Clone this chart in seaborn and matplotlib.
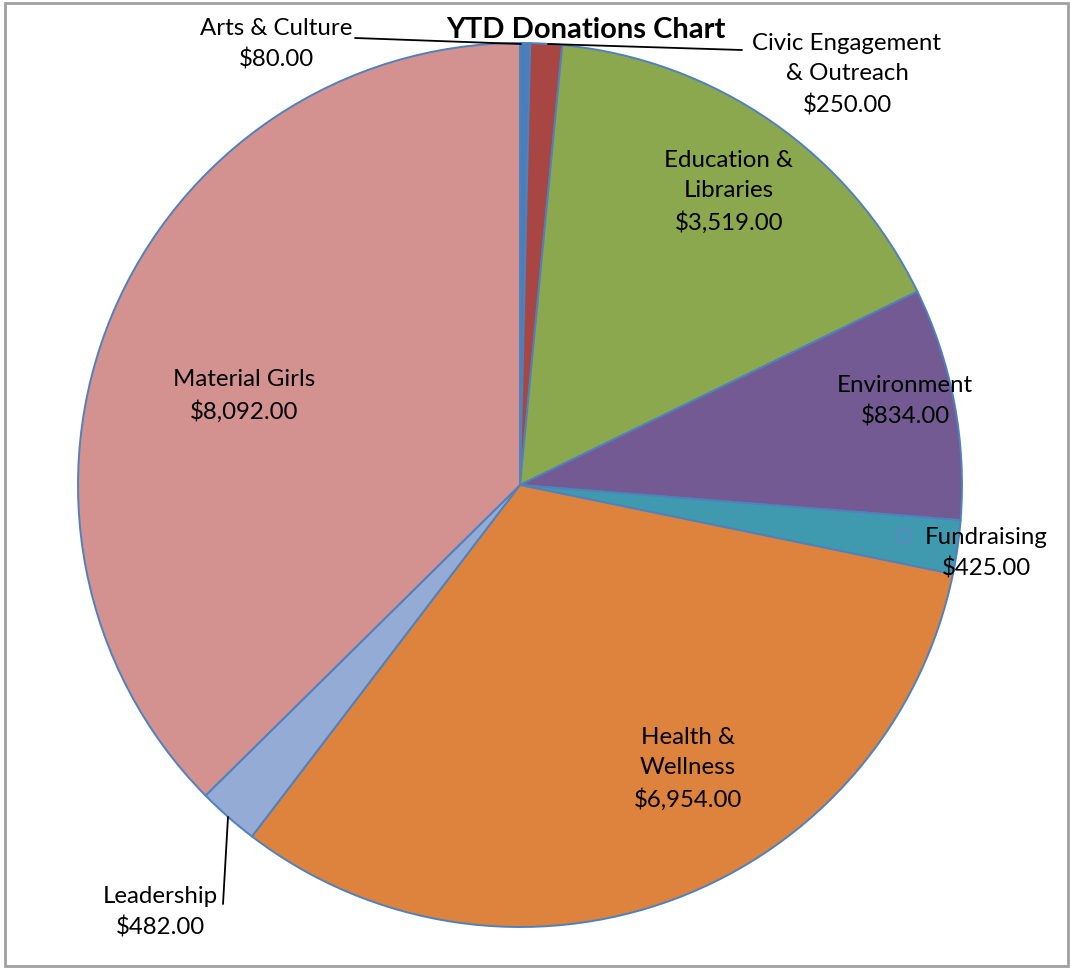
import matplotlib
matplotlib.use("Agg")
import matplotlib.pyplot as plt
import seaborn as sns
from matplotlib.patches import Rectangle

categories = ["Arts & Culture", "Civic Engagement\n& Outreach", "Education &\nLibraries",
              "Environment", "Fundraising", "Health &\nWellness", "Leadership", "Material Girls"]
# slice sizes as drawn in the chart
values = [80.00, 250.00, 3519.00, 1834.00, 425.00, 6954.00, 482.00, 8092.00]
# amounts printed on the labels
label_amounts = [80.00, 250.00, 3519.00, 834.00, 425.00, 6954.00, 482.00, 8092.00]
colors = ["#4A7EBB", "#A84644", "#8BA84E", "#735A92", "#3F9AB0", "#DD833D", "#94ABD6", "#D39190"]
title = "YTD Donations Chart"

sns.set_style("white")
plt.rcParams['font.family'] = ['Lato', 'DejaVu Sans']

W, H = 1070, 968
fig = plt.figure(figsize=(W / 100, H / 100), dpi=100)
ax = fig.add_axes([0, 0, 1, 1])

def Y(y):
    return H - y

cx, cy, R = 520, 485, 442
wedges, _ = ax.pie(values, colors=colors, startangle=90, counterclock=False,
                   center=(cx, Y(cy)), radius=R,
                   wedgeprops=dict(edgecolor="#4F81BD", linewidth=1.4))
ax.set_xlim(0, W)
ax.set_ylim(0, H)
ax.set_aspect('equal', adjustable='datalim')
ax.axis('off')

fs = 17.3
def fmt(v):
    return "${:,.2f}".format(v)

label_pos = [(276, 44), (847, 74.5), (729, 192), (905, 401), (986, 553), (688, 769), (160, 912), (244, 396)]
for cat, v, (x, y) in zip(categories, label_amounts, label_pos):
    txt = cat + "\n" + fmt(v)
    ax.text(x, Y(y), txt, ha="center", va="center", fontsize=fs, color="black",
            linespacing=1.55)

# leader lines
ax.plot([355, 521], [Y(38), Y(44)], color="black", lw=1.3)
ax.plot([548, 742], [Y(44), Y(50)], color="black", lw=1.3)
ax.plot([228, 223], [Y(817), Y(904)], color="black", lw=1.3)

# legend key square for Fundraising
ax.add_patch(Rectangle((897, Y(542)), 13, 13, facecolor="none", edgecolor="#5C86C0", lw=1.2))

ax.text(586, Y(30), title, ha="center", va="center", fontsize=21, fontweight="bold", color="black")

fig.patches.append(Rectangle((5 / W, 2 / H), 1063 / W, 963 / H, transform=fig.transFigure,
                             facecolor="none", edgecolor="#A0A0A0", lw=2))

fig.savefig("out.png", dpi=100)
